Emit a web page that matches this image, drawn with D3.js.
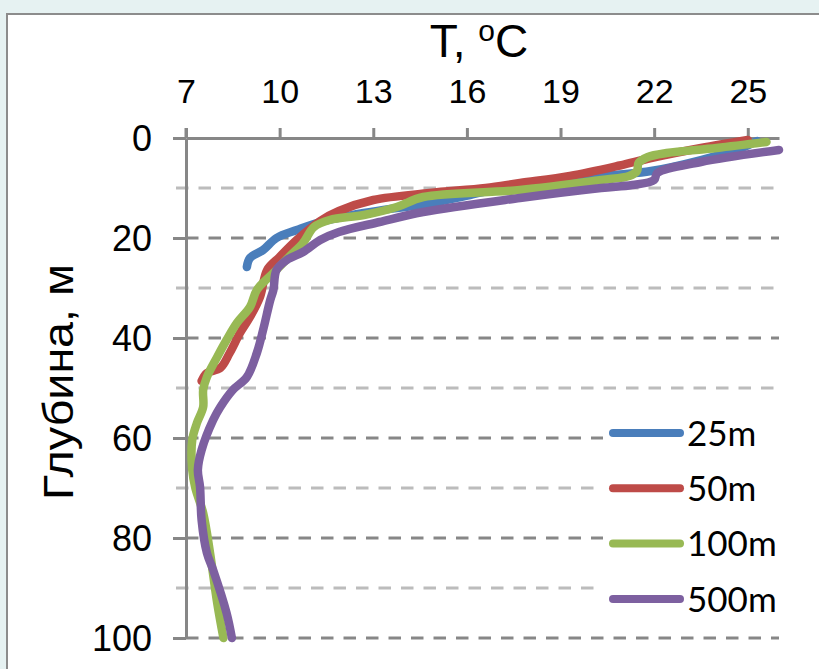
<!DOCTYPE html>
<html lang="ru">
<head>
<meta charset="utf-8">
<title>T profiles</title>
<script src="https://cdn.jsdelivr.net/npm/d3@7"></script>
<style>
  html, body { margin: 0; padding: 0; background: #e6f2f2; }
  svg { display: block; }
</style>
</head>
<body>
<script>
// data: temperature (T, degC) against depth (m)
var series = ["25m", "50m", "100m", "500m"];
var colors = ["#4a7ebb", "#be4b48", "#98b954", "#7d60a0"];

var depth25 = [0.6, 2, 4.4, 6.6, 7.3, 8.2, 9.2, 11.4, 13.3, 14, 15, 16.8, 18.4, 20, 22.4, 24, 25.8];
var temp25  = [25.3, 24.8, 23.5, 21.9, 20.9, 19.3, 17.7, 16.1, 14.6, 13.75, 12.7, 11.3, 10.55, 9.9, 9.47, 9.05, 8.95];

var depth50 = [0.4, 2, 4, 5.5, 7.6, 9, 10, 11, 12.4, 14.6, 16.6, 20.4, 23.8, 26.4, 31.8, 35.8, 39, 43, 46, 47, 48.6];
var temp50  = [25.0, 23.5, 21.9, 20.9, 19.3, 17.7, 16.6, 14.8, 13, 11.9, 11.3, 10.55, 10, 9.6, 9.37, 9.05, 8.73, 8.4, 8.1, 7.67, 7.5];

var depth100 = [0.8, 2, 3, 3.8, 5, 6.6, 7.6, 8.4, 10.4, 11.8, 13.8, 15.4, 16.4, 17.8, 21, 23.8, 27, 30.4, 33.8, 37, 40.4, 43.8, 47.8, 50.4, 53.8, 57, 60.4, 66.4, 70, 75, 83, 93, 100];
var temp100  = [25.6, 24, 22.4, 21.8, 21.5, 21.45, 21.2, 20.3, 17.7, 14.6, 13.75, 12.7, 11.6, 11.1, 10.75, 10.3, 9.8, 9.27, 9.05, 8.63, 8.3, 8.0, 7.67, 7.55, 7.55, 7.35, 7.2, 7.2, 7.3, 7.55, 7.77, 8.0, 8.2];

var depth500 = [2.4, 4.8, 7, 8.4, 9.4, 10, 12, 14.8, 16.8, 18.8, 20.4, 22.8, 24.4, 26.4, 30.4, 32.4, 38.4, 43, 47.8, 50.4, 53.8, 56.4, 62.4, 66.4, 69.8, 76.4, 83, 86.4, 95, 100];
var temp500  = [26, 23.5, 22.1, 22, 21.3, 20.3, 17.7, 14.6, 13.2, 11.9, 11.3, 10.75, 10.23, 9.9, 9.8, 9.7, 9.47, 9.27, 8.95, 8.5, 8.1, 7.87, 7.5, 7.38, 7.45, 7.5, 7.67, 7.87, 8.3, 8.47];

var xTicks = [7, 10, 13, 16, 19, 22, 25];
var yTicks = [0, 20, 40, 60, 80, 100];
var minorDepths = [10, 30, 50, 70, 90];

var w = 819, h = 669;
var svg = d3.select("body").append("svg").attr("width", w).attr("height", h);

// chart frame
svg.append("rect")
   .attr("x", 7).attr("y", 14).attr("width", 840).attr("height", 700)
   .attr("fill", "#ffffff").attr("stroke", "#8c8c8c").attr("stroke-width", 2);

var x = d3.scaleLinear().domain([7, 26]).range([186, 779]);
var y = d3.scaleLinear().domain([0, 100]).range([138, 638]);

var axisColor = "#878787";
var font = "'Liberation Sans', Arial, sans-serif";

// gridlines (minor light, major dark)
svg.selectAll("line.minor")
   .data(minorDepths).enter().append("line")
   .attr("x1", 176).attr("x2", x(26))
   .attr("y1", function(d) { return y(d); }).attr("y2", function(d) { return y(d); })
   .attr("stroke", "#bcbcbc").attr("stroke-width", 3)
   .attr("stroke-dasharray", "12.5,10");

svg.selectAll("line.major")
   .data(yTicks.filter(function(d) { return d > 0; })).enter().append("line")
   .attr("x1", 186).attr("x2", x(26))
   .attr("y1", function(d) { return y(d); }).attr("y2", function(d) { return y(d); })
   .attr("stroke", axisColor).attr("stroke-width", 3)
   .attr("stroke-dasharray", "12.5,10");

// top axis
var xAxis = svg.append("g")
   .attr("transform", "translate(0," + y(0) + ")")
   .call(d3.axisTop(x).tickValues(xTicks).tickSize(10).tickSizeOuter(0).tickPadding(25));

// left axis
var yAxis = svg.append("g")
   .attr("transform", "translate(" + x(7) + ",0)")
   .call(d3.axisLeft(y).tickValues(yTicks).tickSize(13).tickSizeOuter(0).tickPadding(21));

[xAxis, yAxis].forEach(function(g) {
  g.select(".domain").attr("stroke", axisColor).attr("stroke-width", 3);
  g.selectAll(".tick line").attr("stroke", axisColor).attr("stroke-width", 3);
  g.selectAll(".tick text")
   .attr("fill", "#000")
   .style("font-family", font);
});
xAxis.selectAll(".tick text").attr("dy", "0").style("font-size", "34px");
yAxis.selectAll(".tick text").attr("dy", "0.36em").style("font-size", "36px");
// vertical axis reaches up to the x ticks
svg.append("line")
   .attr("x1", x(7)).attr("x2", x(7)).attr("y1", y(0) - 10).attr("y2", y(0))
   .attr("stroke", axisColor).attr("stroke-width", 3);

// titles
var title = svg.append("text")
   .attr("x", 479).attr("y", 57)
   .attr("text-anchor", "middle")
   .style("font-family", font)
   .style("font-size", "46px");
title.append("tspan").text("T, ");
title.append("tspan").attr("dy", -16).style("font-size", "30px").text("o");
title.append("tspan").attr("dy", 16).text("C");

svg.append("text")
   .attr("transform", "translate(73,382) rotate(-90)")
   .attr("text-anchor", "middle")
   .attr("textLength", 236)
   .attr("lengthAdjust", "spacingAndGlyphs")
   .style("font-family", font)
   .style("font-size", "42px")
   .text("Глубина, м");

// profiles
var profiles = [
  { name: "25m", d: depth25, t: temp25 },
  { name: "50m", d: depth50, t: temp50 },
  { name: "100m", d: depth100, t: temp100 },
  { name: "500m", d: depth500, t: temp500 }
];

var line = d3.line()
   .x(function(p) { return x(p[0]); })
   .y(function(p) { return y(p[1]); })
   .curve(d3.curveCatmullRom.alpha(0.5));

profiles.forEach(function(s, i) {
  var pts = s.d.map(function(dd, k) { return [s.t[k], dd]; });
  svg.append("path")
     .datum(pts)
     .attr("d", line)
     .attr("fill", "none")
     .attr("stroke", colors[i])
     .attr("stroke-width", 8.5)
     .attr("stroke-linecap", "round")
     .attr("stroke-linejoin", "round");
});

// legend
var legend = svg.append("g");
legend.append("rect")
   .attr("x", 603).attr("y", 410).attr("width", 190).attr("height", 215)
   .attr("fill", "#ffffff");

series.forEach(function(name, i) {
  var ly = 433 + i * 55.3;
  legend.append("line")
     .attr("x1", 613).attr("x2", 680).attr("y1", ly).attr("y2", ly)
     .attr("stroke", colors[i]).attr("stroke-width", 8).attr("stroke-linecap", "round");
  legend.append("text")
     .attr("x", 687).attr("y", ly).attr("dy", "0.36em")
     .style("font-family", "Lato, 'Open Sans', sans-serif")
     .style("font-size", "35px")
     .text(name);
});
</script>
</body>
</html>
